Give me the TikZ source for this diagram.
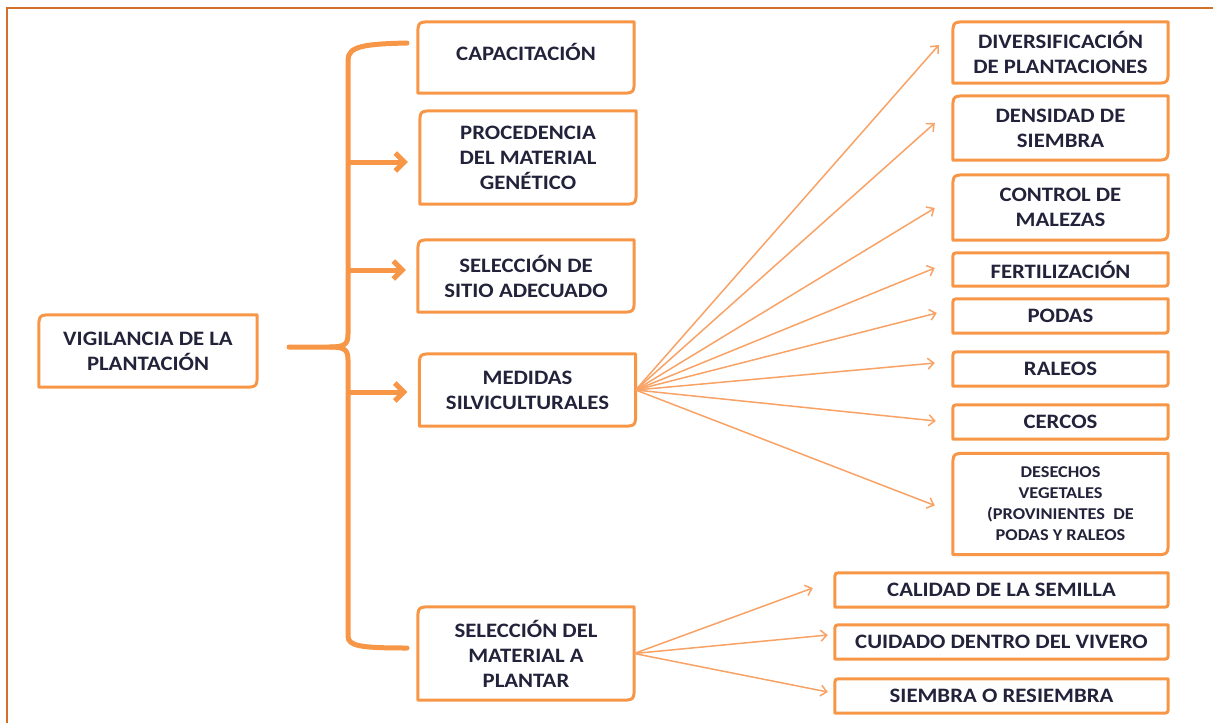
\documentclass[tikz,border=0pt]{standalone}
\usepackage{fontspec}
\setmainfont{Carlito}[FakeStretch=1.11]
\usetikzlibrary{arrows.meta}
\definecolor{org}{HTML}{F79646}
\definecolor{orgl}{HTML}{F8A265}
\definecolor{frm}{HTML}{D0702A}
\definecolor{txt}{HTML}{22223A}
\newcommand\dbox[2]{%
  \draw[boxln] (#1.south west) -- ([yshift=-#2]#1.north west)
    .. controls (#1.north west) .. ([xshift=#2]#1.north west)
    -- (#1.north east) -- ([yshift=#2]#1.south east)
    .. controls (#1.south east) .. ([xshift=-#2]#1.south east)
    -- cycle;}
\begin{document}
\begin{tikzpicture}[x=1pt,y=-1pt,
  box/.style={draw=none, minimum width=216pt, inner sep=0pt, align=center,
    text=txt, font=\bfseries\fontsize{20.5}{25}\selectfont},
  rbox/.style={box, minimum width=215pt},
  boxln/.style={draw=org, line width=3pt, line join=round},
  brace/.style={draw=org, line width=5pt, line cap=round},
  bigarrow/.style={draw=org, line width=5pt, -{Straight Barb[length=9pt,width=18pt]}, shorten >=12pt},
  thin/.style={draw=orgl, line width=1.5pt, -{Straight Barb[length=6pt,width=11pt]}}]
\useasboundingbox (0,0) rectangle (1213,723);
% frame
\draw[frm, line width=2pt] (1213,8) -- (7,8) -- (7,723);

% left / middle boxes
\node[box, minimum width=218pt, minimum height=72pt] (vig) at (148,351) {VIGILANCIA DE LA\\PLANTACIÓN};
\node[box, minimum height=71pt] (cap) at (526,57.5) {\raisebox{12pt}{CAPACITACIÓN}};
\node[box, minimum height=93pt] (proc) at (528,157.5) {PROCEDENCIA\\DEL MATERIAL\\GENÉTICO};
\node[box, minimum height=72pt] (sel) at (526,276) {SELECCIÓN DE\\SITIO ADECUADO};
\node[box, minimum height=72pt] (med) at (527.5,390) {MEDIDAS\\SILVICULTURALES};
\node[box, minimum height=93pt] (mat) at (526,653.5) {SELECCIÓN DEL\\MATERIAL A\\PLANTAR};

% right boxes
\node[rbox, minimum height=61pt] (div) at (1060.5,52.5) {DIVERSIFICACIÓN\\DE PLANTACIONES};
\node[rbox, minimum height=64pt] (den) at (1060.5,128) {DENSIDAD DE\\SIEMBRA};
\node[rbox, minimum height=65pt] (con) at (1060.5,207.5) {CONTROL DE\\MALEZAS};
\node[rbox, minimum height=33pt] (fer) at (1060.5,269.5) {FERTILIZACIÓN};
\node[rbox, minimum height=34pt] (pod) at (1060.5,316) {PODAS};
\node[rbox, minimum height=34pt] (ral) at (1060.5,369) {RALEOS};
\node[rbox, minimum height=34pt] (cer) at (1060.5,422) {CERCOS};
\node[rbox, minimum height=101pt, font=\bfseries\fontsize{16.5}{21}\selectfont] (des) at (1060.5,504)
  {DESECHOS\\VEGETALES\\(PROVINIENTES\ \ DE\\PODAS Y RALEOS};
\node[box, minimum width=333pt, minimum height=34pt] (cal) at (1001.5,590) {CALIDAD DE LA SEMILLA};
\node[box, minimum width=333pt, minimum height=34pt] (cui) at (1001.5,642) {CUIDADO DENTRO DEL VIVERO};
\node[box, minimum width=333pt, minimum height=34pt] (sie) at (1001.5,696) {SIEMBRA O RESIEMBRA};

\foreach \n in {vig,cap,proc,sel,med,mat,div,den,con,des} {\dbox{\n}{15pt}}
\foreach \n in {fer,pod,ral,cer,cal,cui,sie} {\dbox{\n}{7pt}}

% brace
\draw[brace] (407,43) .. controls (365,44) and (348,46) .. (348,60) -- (348,334)
  .. controls (348,344) and (345,347) .. (330,347) -- (289,347);
\draw[brace] (330,347) .. controls (345,347) and (348,350) .. (348,360) -- (348,636)
  .. controls (348,646) and (360,648) .. (407,648);
\coordinate (b1) at (348,162);
\coordinate (b2) at (348,270);
\coordinate (b3) at (348,392);
\draw[bigarrow] (b1) -- (b1 -| proc.west);
\draw[bigarrow] (b2) -- (b2 -| sel.west);
\draw[bigarrow] (b3) -- (b3 -| med.west);

% thin arrows
\draw[thin] (med.east) -- ([xshift=-14pt,yshift=7.5pt]div.west);
\draw[thin] (med.east) -- ([xshift=-18pt,yshift=5pt]den.west);
\draw[thin] (med.east) -- ([xshift=-18pt,yshift=-0.5pt]con.west);
\draw[thin] (med.east) -- ([xshift=-18pt,yshift=1.5pt]fer.west);
\draw[thin] (med.east) -- ([xshift=-16pt,yshift=3pt]pod.west);
\draw[thin] (med.east) -- ([xshift=-18pt,yshift=6pt]ral.west);
\draw[thin] (med.east) -- ([xshift=-17pt,yshift=1pt]cer.west);
\draw[thin] (med.east) -- ([xshift=-18pt,yshift=-1.5pt]des.west);
\draw[thin] (mat.east) -- ([xshift=-22pt,yshift=2pt]cal.west);
\draw[thin] (mat.east) -- ([xshift=-7pt,yshift=7pt]cui.west);
\draw[thin] (mat.east) -- ([xshift=-7pt,yshift=4pt]sie.west);
\end{tikzpicture}
\end{document}
